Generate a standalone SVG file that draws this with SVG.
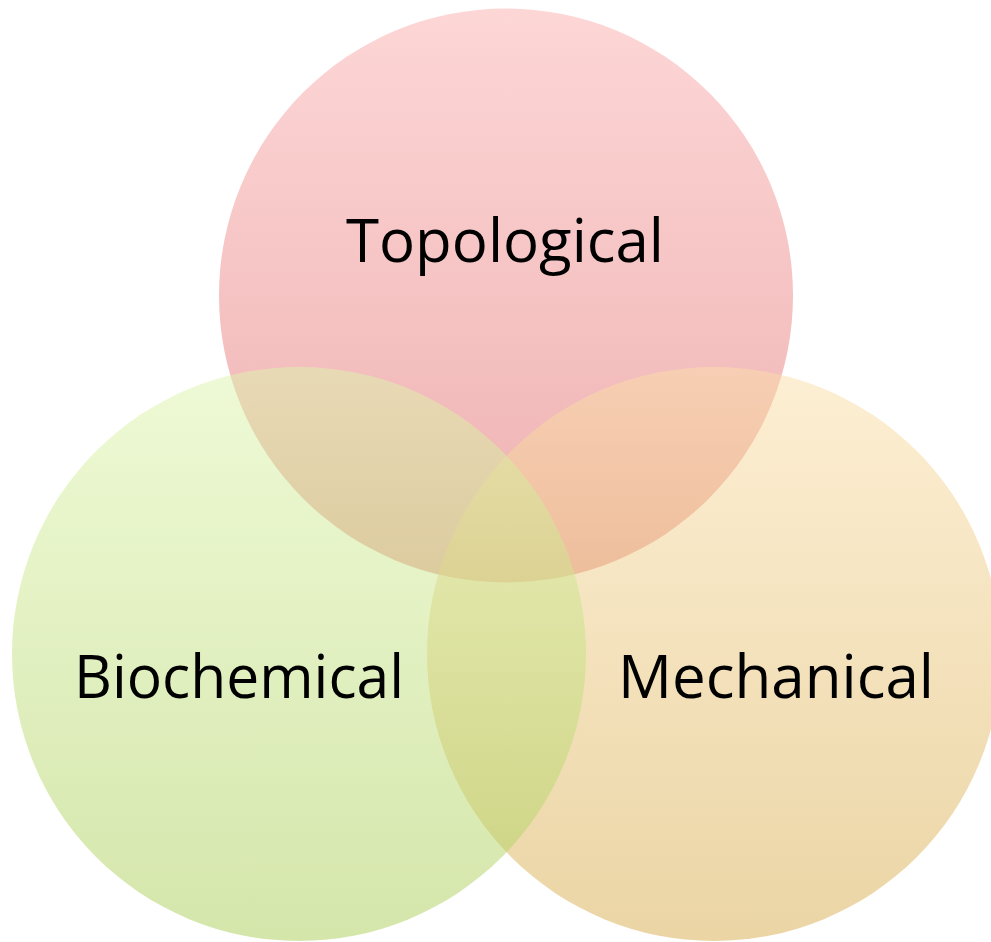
<svg xmlns="http://www.w3.org/2000/svg" width="991" height="942" viewBox="0 0 991 942">
  <defs>
    <linearGradient id="gPink" x1="0" y1="0" x2="0" y2="1">
      <stop offset="0" stop-color="#fdd6d6"/>
      <stop offset="1" stop-color="#eeb0b0"/>
    </linearGradient>
    <linearGradient id="gBeige" x1="0" y1="0" x2="0" y2="1">
      <stop offset="0" stop-color="#fbdfa9"/>
      <stop offset="1" stop-color="#d7ab4b"/>
    </linearGradient>
    <linearGradient id="gGreen" x1="0" y1="0" x2="0" y2="1">
      <stop offset="0" stop-color="#ddf5ad"/>
      <stop offset="1" stop-color="#abcd57"/>
    </linearGradient>
    <style>
      .lbl { font-family: "Open Sans", "Liberation Sans", sans-serif; font-size: 61px; fill: #000000; text-anchor: middle; }
      .trans { fill-opacity: 0.5; }
    </style>
  </defs>
  <rect x="0" y="0" width="991" height="942" fill="#ffffff"/>
  <g id="topological">
    <circle cx="506" cy="295.5" r="287" fill="url(#gPink)"/>
    <text class="lbl" x="505" y="262" textLength="318" lengthAdjust="spacingAndGlyphs">Topological</text>
  </g>
  <g id="mechanical">
    <circle class="trans" cx="714" cy="654" r="287" fill="url(#gBeige)"/>
    <text class="lbl" x="776" y="698" textLength="316" lengthAdjust="spacingAndGlyphs">Mechanical</text>
  </g>
  <g id="biochemical">
    <circle class="trans" cx="299" cy="654" r="287" fill="url(#gGreen)"/>
    <text class="lbl" x="239" y="698" textLength="330" lengthAdjust="spacingAndGlyphs">Biochemical</text>
  </g>
  <g id="connectors"></g>
</svg>
